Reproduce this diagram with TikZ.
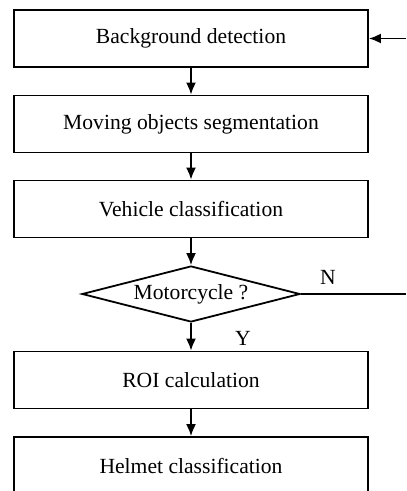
\documentclass[tikz,border=0pt]{standalone}
\usepackage{fontspec}
\setmainfont{Liberation Serif}
\usetikzlibrary{shapes.geometric,arrows.meta}
\begin{document}
\begin{tikzpicture}[
    x=0.5pt, y=0.5pt,
    every node/.style={font=\fontsize{10.8}{13}\selectfont},
    box/.style={draw, line width=0.9pt, minimum width=177pt, minimum height=28.5pt, align=center},
    decision/.style={diamond, draw, line width=0.9pt, aspect=4, inner sep=1pt, minimum width=109pt, minimum height=28pt},
    flow/.style={line width=0.9pt, -{Latex[length=6pt, width=5pt]}},
    plain/.style={line width=0.9pt}
]
\useasboundingbox (0,0) rectangle (406,-491);

% Steps
\node[box] (s1) at (191, -38.5) {Background detection};
\node[box] (s2) at (191, -124) {Moving objects segmentation};
\node[box] (s3) at (191, -209) {Vehicle classification};
\node[decision] (d1) at (191, -294) {Motorcycle ?};
\node[box] (s4) at (191, -380) {ROI calculation};
\node[box] (s5) at (191, -465.5) {Helmet classification};

% Branch labels
\node (lN) at (328, -277) {N};
\node (lY) at (243, -338) {Y};

% Open ends at the right
\coordinate (fb) at (406, -38.5);
\coordinate (nout) at (406, -294);

% Connectors
\draw[flow] (s1) -- (s2);
\draw[flow] (s2) -- (s3);
\draw[flow] (s3) -- (d1);
\draw[flow] (d1) -- (s4);
\draw[flow] (s4) -- (s5);
\draw[flow] (fb) -- (s1.east);
\draw[plain] (d1.east) -- (nout);

\end{tikzpicture}
\end{document}
